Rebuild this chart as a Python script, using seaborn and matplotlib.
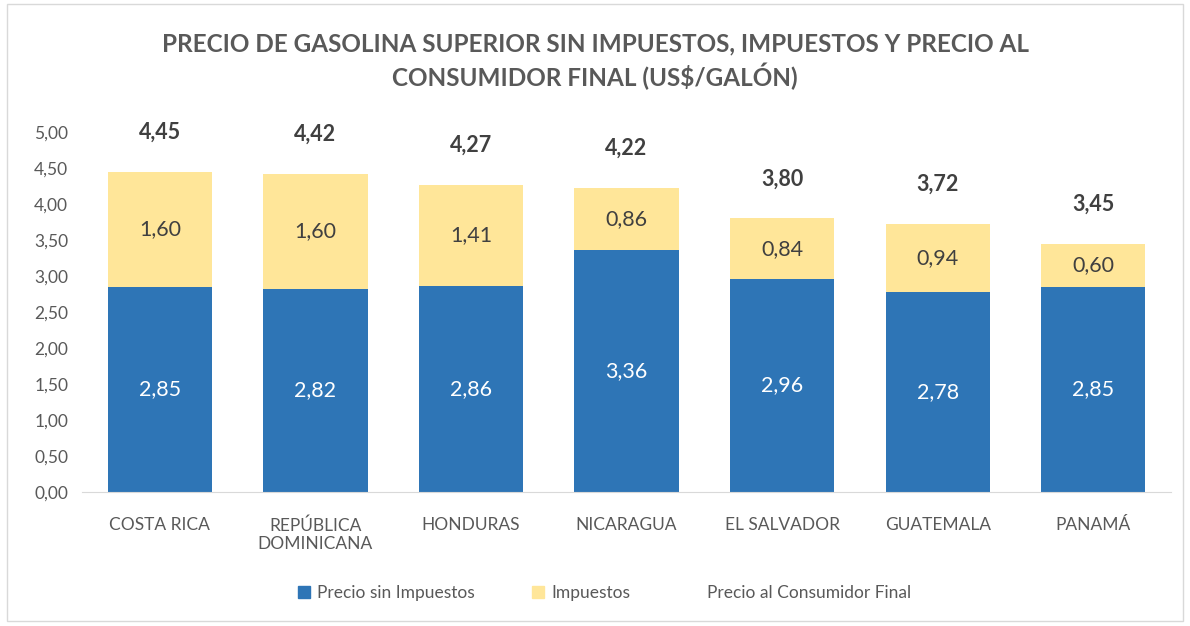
import matplotlib
matplotlib.use("Agg")
import matplotlib.pyplot as plt
import matplotlib.patches as mpatches
import seaborn as sns
import pandas as pd

# Datos
paises = ["COSTA RICA", "REPÚBLICA\nDOMINICANA", "HONDURAS", "NICARAGUA",
          "EL SALVADOR", "GUATEMALA", "PANAMÁ"]
sin_impuestos = [2.85, 2.82, 2.86, 3.36, 2.96, 2.78, 2.85]
impuestos = [1.60, 1.60, 1.41, 0.86, 0.84, 0.94, 0.60]
precio_final = [4.45, 4.42, 4.27, 4.22, 3.80, 3.72, 3.45]
y_ticks = [0, 0.5, 1, 1.5, 2, 2.5, 3, 3.5, 4, 4.5, 5]

AZUL = "#2E75B6"
AMARILLO = "#FFE699"
GRIS = "#595959"
OSCURO = "#404040"


def fmt(v):
    return f"{v:.2f}".replace(".", ",")


def main():
    sns.set_style("white")
    plt.rcParams["font.family"] = ["Lato", "DejaVu Sans"]

    df = pd.DataFrame({"pais": paises, "base": sin_impuestos,
                       "imp": impuestos, "total": precio_final})

    fig = plt.figure(figsize=(11.9, 6.26), dpi=100)
    ax = fig.add_axes([0.069, 0.214, 0.915, 0.575])

    # capa amarilla = total, capa azul encima = sin impuestos
    sns.barplot(data=df, x="pais", y="total", color=AMARILLO, saturation=1,
                width=0.67, linewidth=0, ax=ax)
    sns.barplot(data=df, x="pais", y="base", color=AZUL, saturation=1,
                width=0.67, linewidth=0, ax=ax)

    for i, row in df.iterrows():
        ax.text(i, row["base"] / 2, fmt(row["base"]), ha="center", va="center",
                color="white", fontsize=15.5)
        ax.text(i, row["base"] + row["imp"] / 2, fmt(row["imp"]), ha="center",
                va="center", color=OSCURO, fontsize=15.5)
        ax.annotate(fmt(row["total"]), (i, row["total"]), xytext=(0, 21),
                    textcoords="offset points", ha="center", va="bottom",
                    color=OSCURO, fontsize=15.5, fontweight="bold")

    ax.set_ylim(0, 5)
    ax.set_yticks(y_ticks)
    ax.set_yticklabels([fmt(v) for v in y_ticks], color=GRIS, fontsize=12.5)
    ax.tick_params(axis="x", colors=GRIS, labelsize=12.5, length=0, pad=18)
    ax.tick_params(axis="y", length=0, pad=10)
    ax.set_xlabel("")
    ax.set_ylabel("")
    for s in ["top", "right", "left"]:
        ax.spines[s].set_visible(False)
    ax.spines["bottom"].set_color("#D9D9D9")

    fig.text(0.5, 0.902, "PRECIO DE GASOLINA SUPERIOR SIN IMPUESTOS, IMPUESTOS Y PRECIO AL\nCONSUMIDOR FINAL (US$/GALÓN)",
             ha="center", va="center", fontsize=17.5, fontweight="bold",
             color=GRIS, linespacing=1.3)

    handles = [mpatches.Patch(color=AZUL), mpatches.Patch(color=AMARILLO),
               mpatches.Patch(color="none")]
    fig.legend(handles, ["Precio sin Impuestos", "Impuestos",
                         "Precio al Consumidor Final"],
               loc="center", bbox_to_anchor=(0.508, 0.053), ncol=3, frameon=False,
               fontsize=12.5, labelcolor=GRIS, handlelength=0.7, handleheight=0.7,
               handletextpad=0.4, columnspacing=3.3)

    fig.patches.append(mpatches.Rectangle((0.006, 0.008), 0.988, 0.985,
                                          transform=fig.transFigure, fill=False,
                                          edgecolor="#D9D9D9", linewidth=1))

    fig.savefig("out.png", dpi=100)


if __name__ == "__main__":
    main()
